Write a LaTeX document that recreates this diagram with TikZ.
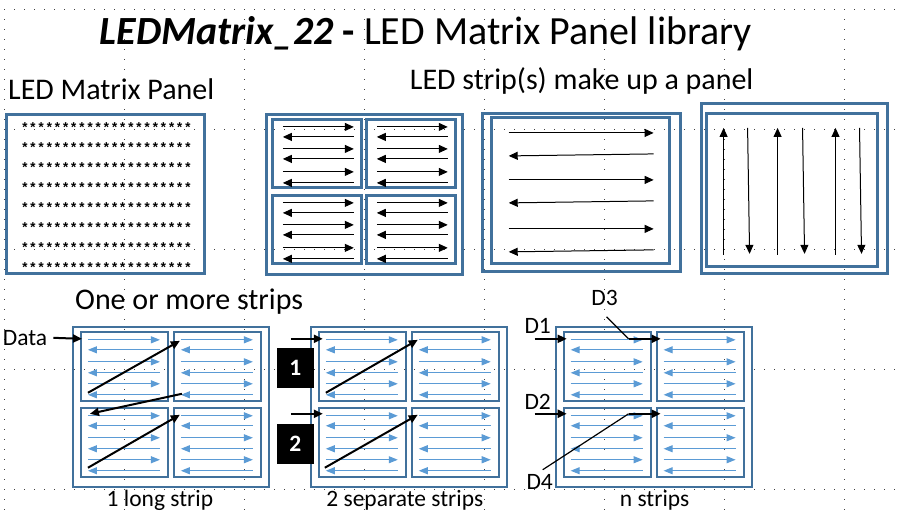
\documentclass[tikz,border=0pt]{standalone}
\usepackage{fontspec}
\setmainfont{Carlito}
\newfontfamily\starfont{Liberation Mono}
\usetikzlibrary{arrows.meta}
\definecolor{panelblue}{RGB}{65,113,156}
\definecolor{stripblue}{RGB}{91,155,213}
\tikzset{
  panel/.style={draw=panelblue,line width=3pt},
  subpanel/.style={draw=panelblue,line width=2pt},
  blkstrip/.style={-{Triangle[length=9pt,width=8pt]},line width=1pt},
  bluestrip/.style={-{Triangle[length=9pt,width=7pt]},draw=stripblue,line width=1pt},
  feed/.style={-{Triangle[length=9pt,width=8pt]},line width=2pt},
  leader/.style={line width=1.2pt},
  gridline/.style={black!75,line width=1pt,dash pattern=on 1pt off 9pt},
  heading/.style={inner sep=0pt,anchor=base west,font=\fontsize{30}{36}\selectfont},
  label/.style={inner sep=0pt,font=\fontsize{23.5}{28}\selectfont},
  numbox/.style={fill=black,text=white,minimum width=37pt,minimum height=40pt,
    inner sep=0pt,font=\fontsize{23.5}{28}\selectfont\bfseries},
  starrow/.style={inner sep=0pt,font=\starfont\bfseries\fontsize{13.6}{14}\selectfont}
}
% one bottom panel of four blue strip boxes, left edge at #1
\newcommand{\bluepanel}[1]{%
  \draw[subpanel] (#1,327) rectangle ++(196,160);
  \foreach \dx/\by in {8/332,101/332,8/408,101/408} {
    \draw[subpanel] (#1+\dx,\by) rectangle ++(87,69);
    \foreach \dy in {8,30,52}
      \draw[bluestrip] (#1+\dx+7,\by+\dy) -- ++(72,0);
    \foreach \dy in {18,41,63}
      \draw[bluestrip] (#1+\dx+79,\by+\dy) -- ++(-72,0);
  }
}

\begin{document}
\begin{tikzpicture}[x=1pt,y=-1pt]
  \fill[white] (0,0) rectangle (900,517);
  % dotted page grid
  \foreach \gy in {10,130,250,370,490} \draw[gridline] (4.5,\gy) -- (900,\gy);
  \foreach \gx in {5,125,...,845} \draw[gridline] (\gx,9.5) -- (\gx,517);

  % titles
  \node[anchor=base,inner sep=0pt,font=\fontsize{40}{48}\selectfont] (title) at (426,45)
    {\textbf{\textit{LEDMatrix\_22}} \textbf{-} LED Matrix Panel library};
  \node[heading] (hdpanel) at (8,100) {LED Matrix Panel};
  \node[heading] (hdstrip) at (410,90) {LED strip(s) make up a panel};
  \node[heading] (hdmore) at (75,310) {One or more strips};

  % LED matrix panel
  \draw[panel] (7,115) rectangle (205,274);
  \foreach \r in {0,...,7}
    \node[starrow] (row\r) at (106.5,128+20*\r) {*********************};

  % four boxes of strips
  \draw[panel] (267,115) rectangle (463,275);
  \foreach \bx/\by in {273/120,367/120,273/196,367/196} {
    \draw[panel] (\bx,\by) rectangle ++(89,68);
    \foreach \dy in {7,29,52}
      \draw[blkstrip] (\bx+10,\by+\dy) -- ++(71,0);
    \foreach \dy in {17,39,63}
      \draw[blkstrip] (\bx+81,\by+\dy) -- ++(-71,0);
  }

  % one box, horizontal strips
  \draw[panel] (483,114) rectangle (681,272);
  \draw[panel] (492,118) rectangle (670,264);
  \foreach \sy in {133,180,229} \draw[blkstrip] (509,\sy) -- (654,\sy);
  \foreach \sy in {155,202,251} \draw[blkstrip] (654,\sy-1) -- (509,\sy+1);

  % one box, vertical strips
  \draw[panel] (702,104) rectangle (888,274);
  \draw[panel] (707,114) rectangle (878,267);
  \foreach \sx in {724,778,836} \draw[blkstrip] (\sx,255) -- (\sx,128);
  \foreach \sx in {748,803,860} \draw[blkstrip] (\sx,128) -- (\sx+2,254);

  % 1 long strip
  \bluepanel{73}
  \node[label] (data) at (25,338) {Data};
  \coordinate (ain) at (82,339);
  \coordinate (a1) at (88,393);
  \coordinate (a2) at (180,341);
  \coordinate (a3) at (182,394);
  \coordinate (a4) at (90,414);
  \coordinate (a5) at (88,468);
  \coordinate (a6) at (180,415);
  \draw[feed] ([xshift=6pt]data.east) -- (ain);
  \draw[feed] (a1) -- (a2);
  \draw[feed] (a3) -- (a4);
  \draw[feed] (a5) -- (a6);
  \node[label,anchor=base] (lblone) at (160,507) {1 long strip};

  % 2 separate strips
  \bluepanel{311}
  \node[numbox] (box1) at (295.5,368) {1};
  \node[numbox] (box2) at (295.5,444.5) {2};
  \coordinate (b1) at (291,339);
  \coordinate (b2) at (323,339);
  \coordinate (b3) at (291,414);
  \coordinate (b4) at (323,414);
  \coordinate (b5) at (326,393);
  \coordinate (b6) at (418,340);
  \coordinate (b7) at (325,468);
  \coordinate (b8) at (418,415);
  \draw[feed] (b1) -- (b2);
  \draw[feed] (b3) -- (b4);
  \draw[feed] (b5) -- (b6);
  \draw[feed] (b7) -- (b8);
  \node[label,anchor=base] (lbltwo) at (405,507) {2 separate strips};

  % n strips
  \bluepanel{556}
  \node[label] (d1) at (538,326) {D1};
  \node[label] (d2) at (538,402) {D2};
  \node[label] (d3) at (605,298) {D3};
  \node[label] (d4) at (540,482) {D4};
  \coordinate (c1) at (535,339);
  \coordinate (c2) at (567,339);
  \coordinate (c3) at (535,414);
  \coordinate (c4) at (567,414);
  \coordinate (c5) at (607,317);
  \coordinate (c6) at (629,339);
  \coordinate (c7) at (661,339);
  \coordinate (c8) at (543,470);
  \coordinate (c9) at (629,414);
  \coordinate (c10) at (661,414);
  \draw[feed] (c1) -- (c2);
  \draw[feed] (c3) -- (c4);
  \draw[leader] (c5) -- (c6);
  \draw[feed] (c6) -- (c7);
  \draw[leader] (c8) -- (c9);
  \draw[feed] (c9) -- (c10);
  \node[label,anchor=base] (lbln) at (655,507) {n strips};
\end{tikzpicture}
\end{document}
